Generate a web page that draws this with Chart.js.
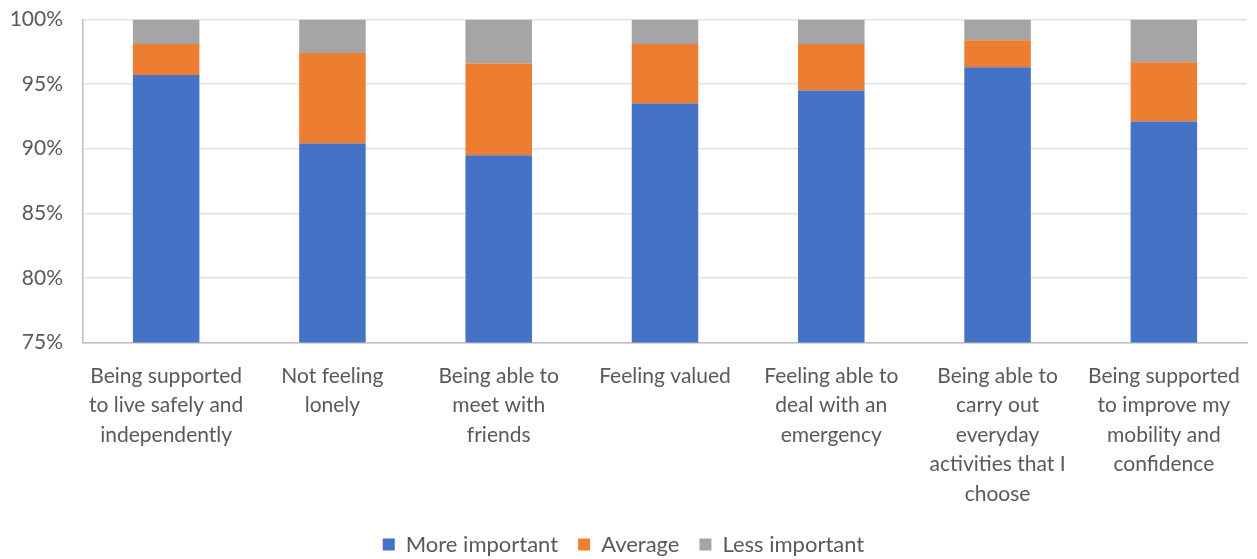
<!DOCTYPE html>
<html>
<head>
<meta charset="utf-8">
<script src="https://cdn.jsdelivr.net/npm/chart.js@4.4.0/dist/chart.umd.min.js"></script>
<style>
  html, body { margin: 0; padding: 0; background: #fff; }
  #wrap { width: 1257px; height: 559px; position: relative; }
</style>
</head>
<body>
<div id="wrap"><canvas id="importanceChart"></canvas></div>
<script>
// categories (pre-wrapped into lines)
var categories = [
  ['Being supported', 'to live safely and', 'independently'],
  ['Not feeling', 'lonely'],
  ['Being able to', 'meet with', 'friends'],
  ['Feeling valued'],
  ['Feeling able to', 'deal with an', 'emergency'],
  ['Being able to', 'carry out', 'everyday', 'activities that I', 'choose'],
  ['Being supported', 'to improve my', 'mobility and', 'confidence']
];

// shares in percent
var moreImportant = [95.7, 90.4, 89.5, 93.5, 94.5, 96.3, 92.1];
var average       = [2.4, 7.0, 7.1, 4.6, 3.6, 2.1, 4.6];
var lessImportant = [1.9, 2.6, 3.4, 1.9, 1.9, 1.6, 3.3];

var yTicks = [75, 80, 85, 90, 95, 100];

var fontFamily = 'Lato, "Liberation Sans", sans-serif';
var textColor = '#595959';

document.addEventListener('DOMContentLoaded', function() {
  var ctx = document.getElementById('importanceChart').getContext('2d');
  new Chart(ctx, {
    type: 'bar',
    data: {
      labels: categories,
      datasets: [{
        label: 'More important',
        data: moreImportant,
        backgroundColor: '#4472c4'
      }, {
        label: 'Average',
        data: average,
        backgroundColor: '#ed7d31'
      }, {
        label: 'Less important',
        data: lessImportant,
        backgroundColor: '#a5a5a5'
      }]
    },
    options: {
      responsive: true,
      maintainAspectRatio: false,
      animation: false,
      // legend spacing is wide, so let its box hang past the bottom edge
      layout: { padding: { top: 19.5, right: 10, left: 0, bottom: -6.5 } },
      datasets: {
        bar: { categoryPercentage: 1.0, barPercentage: 0.4 }
      },
      scales: {
        x: {
          stacked: true,
          grid: { display: false },
          border: { display: true, color: '#bfbfbf', width: 1.5 },
          ticks: {
            color: textColor,
            font: { family: fontFamily, size: 21, lineHeight: 1.4 },
            padding: 11,
            maxRotation: 0,
            autoSkip: false
          },
          afterFit: function(scale) { scale.height = 171; }
        },
        y: {
          stacked: true,
          min: yTicks[0],
          max: yTicks[yTicks.length - 1],
          afterBuildTicks: function(scale) {
            scale.ticks = yTicks.map(function(v) { return { value: v }; });
          },
          grid: { color: '#e3e3e3', lineWidth: 1.5, drawTicks: false },
          border: { display: true, color: '#bfbfbf', width: 1.5 },
          ticks: {
            color: textColor,
            font: { family: fontFamily, size: 21 },
            padding: 20,
            callback: function(v) { return v + '%'; }
          },
          afterFit: function(scale) {
            scale.width = 83;
            scale.paddingTop = 0;
            scale.paddingBottom = 0;
          }
        }
      },
      plugins: {
        legend: {
          position: 'bottom',
          labels: {
            color: textColor,
            font: { family: fontFamily, size: 22 },
            boxWidth: 12,
            boxHeight: 12,
            padding: 20
          }
        },
        tooltip: { enabled: false }
      }
    }
  });
});
</script>
</body>
</html>
